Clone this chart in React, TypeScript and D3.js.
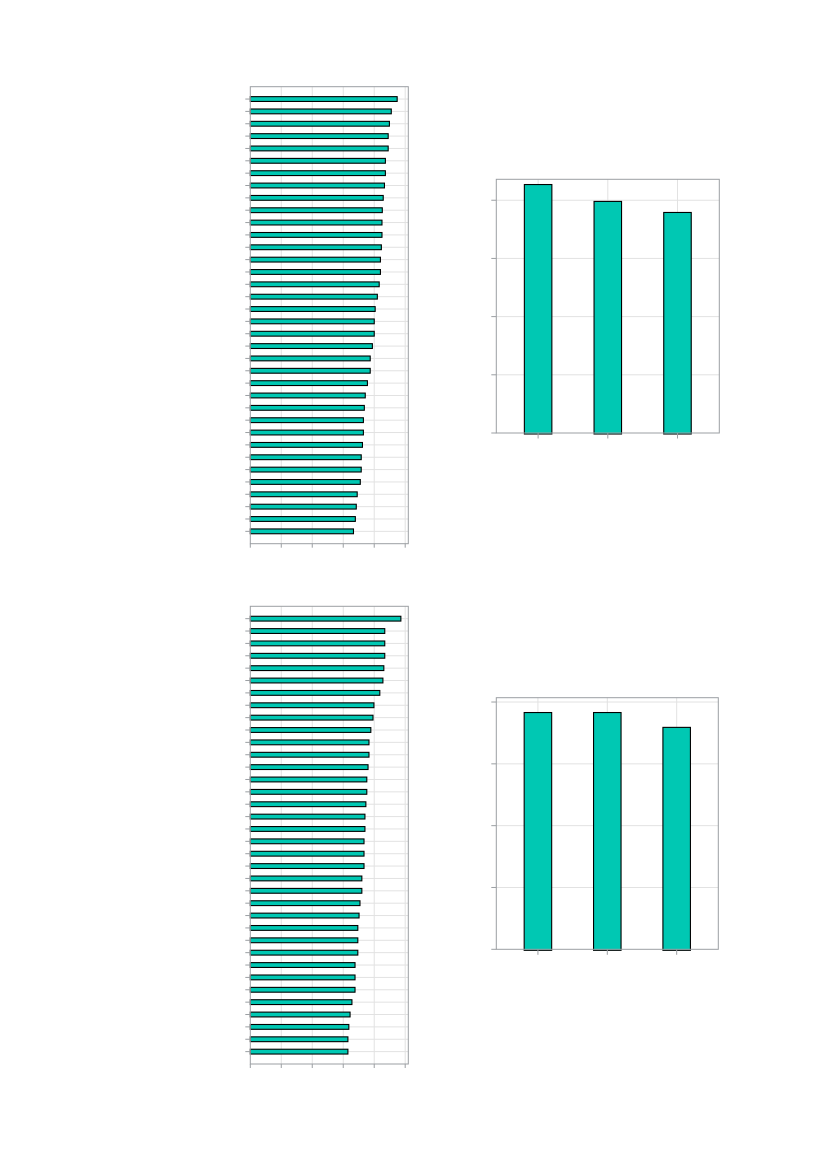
import React from "react";
import * as d3 from "d3";

// ---- Data ----
const topLeftCategories = Array.from({ length: 36 }, (_, i) => `A${i + 1}`);
const topLeftValues = [
  4.75, 4.56, 4.5, 4.46, 4.46, 4.37, 4.37, 4.34, 4.3, 4.27, 4.26, 4.26,
  4.24, 4.21, 4.21, 4.17, 4.11, 4.04, 4.01, 4.01, 3.95, 3.88, 3.88, 3.79,
  3.72, 3.69, 3.66, 3.66, 3.63, 3.59, 3.59, 3.56, 3.46, 3.43, 3.4, 3.34,
];
const bottomLeftCategories = Array.from({ length: 36 }, (_, i) => `B${i + 1}`);
const bottomLeftValues = [
  4.87, 4.35, 4.35, 4.35, 4.32, 4.29, 4.19, 4.0, 3.97, 3.9, 3.84, 3.84,
  3.81, 3.77, 3.77, 3.74, 3.71, 3.71, 3.68, 3.68, 3.68, 3.61, 3.61, 3.55,
  3.52, 3.48, 3.48, 3.48, 3.39, 3.39, 3.39, 3.29, 3.23, 3.19, 3.16, 3.16,
];
const topRightCategories = ["G1", "G2", "G3"];
const topRightValues = [4.27, 3.98, 3.79];
const bottomRightCategories = ["H1", "H2", "H3"];
const bottomRightValues = [3.83, 3.83, 3.59];
const leftTicks = [0, 1, 2, 3, 4, 5];
const rightTicks = [0, 1, 2, 3, 4];

const FILL = "#00c8b3";
const FRAME = "#9b9fa3";
const GRID = "#e2e2e2";

type HProps = {
  cats: string[];
  values: number[];
  x0: number;
  x1: number;
  y0: number;
  y1: number;
  xMax: number;
};

function HBarChart({ cats, values, x0, x1, y0, y1, xMax }: HProps) {
  const x = d3.scaleLinear().domain([0, xMax]).range([x0, x1]);
  const y = d3.scalePoint<string>().domain(cats).range([y0, y1]).padding(1);
  const bh = 4.8;
  return (
    <g>
      {cats.map((c) => (
        <line key={"hg" + c} x1={x0} x2={x1} y1={y(c)} y2={y(c)} stroke={GRID} strokeWidth={1} />
      ))}
      {leftTicks.slice(1).map((t) => (
        <line key={"vg" + t} x1={x(t)} x2={x(t)} y1={y0} y2={y1} stroke={GRID} strokeWidth={1} />
      ))}
      {cats.map((c, i) => (
        <rect
          key={"b" + c}
          x={x(0)}
          y={(y(c) as number) - bh / 2}
          width={x(values[i]) - x(0) - 0.3}
          height={bh}
          fill={FILL}
          stroke="#000"
          strokeWidth={1.1}
        />
      ))}
      <rect x={x0} y={y0} width={x1 - x0} height={y1 - y0} fill="none" stroke={FRAME} strokeWidth={1} />
      {cats.map((c) => (
        <line key={"yt" + c} x1={x0 - 5} x2={x0} y1={y(c)} y2={y(c)} stroke={FRAME} strokeWidth={1} />
      ))}
      {leftTicks.map((t) => (
        <line key={"xt" + t} x1={x(t)} x2={x(t)} y1={y1} y2={y1 + 4} stroke={FRAME} strokeWidth={1} />
      ))}
    </g>
  );
}

type VProps = {
  cats: string[];
  values: number[];
  x0: number;
  x1: number;
  y0: number;
  y1: number;
  yMax: number;
};

function VBarChart({ cats, values, x0, x1, y0, y1, yMax }: VProps) {
  const x = d3.scalePoint<string>().domain(cats).range([x0, x1]).padding(0.6);
  const y = d3.scaleLinear().domain([0, yMax]).range([y1, y0]);
  const bw = 27.5;
  return (
    <g>
      {rightTicks.slice(1).map((t) => (
        <line key={"hg" + t} x1={x0} x2={x1} y1={y(t)} y2={y(t)} stroke={GRID} strokeWidth={1} />
      ))}
      {cats.map((c) => (
        <line key={"vg" + c} x1={x(c)} x2={x(c)} y1={y0} y2={y1} stroke={GRID} strokeWidth={1} />
      ))}
      {cats.map((c, i) => (
        <rect
          key={"b" + c}
          x={(x(c) as number) - bw / 2}
          y={y(values[i])}
          width={bw}
          height={y(0) - y(values[i]) + 1}
          fill={FILL}
          stroke="#000"
          strokeWidth={1.1}
        />
      ))}
      <rect x={x0} y={y0} width={x1 - x0} height={y1 - y0} fill="none" stroke={FRAME} strokeWidth={1} />
      {rightTicks.map((t) => (
        <line key={"yt" + t} x1={x0 - 5} x2={x0} y1={y(t)} y2={y(t)} stroke={FRAME} strokeWidth={1} />
      ))}
      {cats.map((c) => (
        <line key={"xt" + c} x1={x(c)} x2={x(c)} y1={y1} y2={y1 + 5.5} stroke={FRAME} strokeWidth={1} />
      ))}
    </g>
  );
}

export default function App() {
  return (
    <svg
      width={827}
      height={1169}
      style={{ position: "absolute", left: 0, top: 0, background: "#fff" }}
    >
      <HBarChart cats={topLeftCategories} values={topLeftValues} x0={250.3} x1={408.3} y0={86.7} y1={543.7} xMax={5.1} />
      <HBarChart cats={bottomLeftCategories} values={bottomLeftValues} x0={250.3} x1={408.3} y0={606.3} y1={1064} xMax={5.1} />
      <VBarChart cats={topRightCategories} values={topRightValues} x0={496.3} x1={719.3} y0={179.3} y1={433} yMax={4.36} />
      <VBarChart cats={bottomRightCategories} values={bottomRightValues} x0={496.3} x1={718.3} y0={697.7} y1={949.3} yMax={4.07} />
    </svg>
  );
}
